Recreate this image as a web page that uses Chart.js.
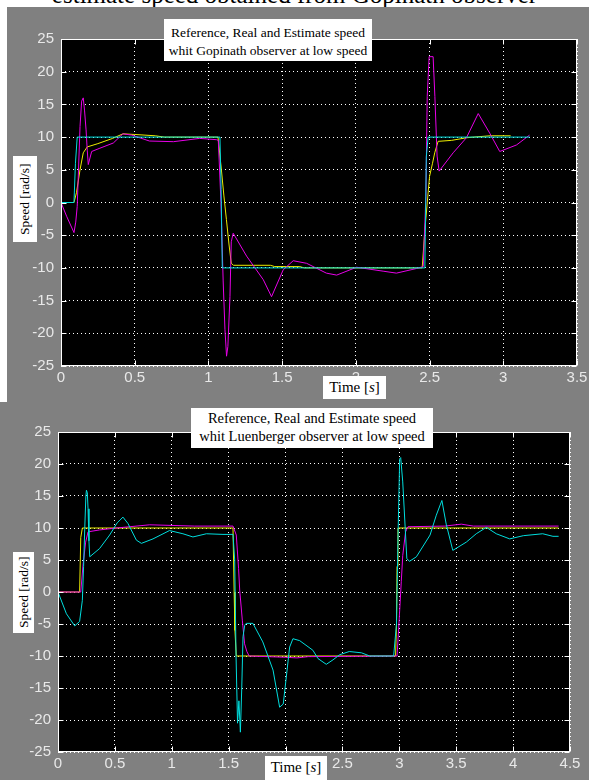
<!DOCTYPE html>
<html>
<head>
<meta charset="utf-8">
<script src="https://cdn.jsdelivr.net/npm/chart.js@4/dist/chart.umd.min.js"></script>
<style>
  html, body { margin: 0; padding: 0; background: #fff; }
  body { position: relative; width: 589px; height: 780px; overflow: hidden;
         font-family: "Liberation Serif", "Times New Roman", serif; }
  .caption { position: absolute; left: 0; top: -18px; width: 589px; text-align: center;
             font-size: 25px; line-height: 25px; color: #000; white-space: nowrap; }
  .fig { position: absolute; background: #808080; }
  canvas { position: absolute; left: 0; }
  .box { position: absolute; background: #fff; color: #000; box-sizing: border-box;
         white-space: nowrap; text-align: center; }
  .ylab { writing-mode: vertical-rl; transform: rotate(180deg); }
</style>
</head>
<body>
<div class="caption">estimate speed obtained from Gopinath observer</div>
<div class="fig" style="left:7px; top:7px; width:582px; height:395px;"></div>
<div class="fig" style="left:0; top:402px; width:589px; height:378px;"></div>

<canvas id="gopinath" width="589" height="402" style="top:0;"></canvas>
<canvas id="luenberger" width="589" height="380" style="top:400px;"></canvas>

<div class="box" style="left:164px; top:19px; width:208px; height:42px; font-size:13.5px; line-height:18px; padding-top:4.5px;">Reference, Real and Estimate speed<br>whit Gopinath observer at low speed</div>
<div class="box ylab" style="left:13px; top:156px; width:24px; height:86px; font-size:13.5px; line-height:24px;">Speed [rad/s]</div>
<div class="box" style="left:323px; top:376px; width:63px; height:23px; font-size:15px; line-height:22px;">Time [<i>s</i>]</div>

<div class="box" style="left:191px; top:408px; width:242px; height:40px; font-size:14.5px; line-height:18px; padding-top:0.5px;">Reference, Real and Estimate speed<br>whit Luenberger observer at low speed</div>
<div class="box ylab" style="left:13px; top:552px; width:21px; height:81px; font-size:13.5px; line-height:21px;">Speed [rad/s]</div>
<div class="box" style="left:265px; top:756px; width:62px; height:24px; font-size:15px; line-height:22px;">Time [<i>s</i>]</div>

<script>
// ---- Gopinath observer run ----
const gopRefT  = [0, 0.088, 0.098, 0.11, 1.078, 1.086, 1.094, 2.468, 2.478, 2.49, 3.18];
const gopRefV  = [0, 0, 6, 10, 10, 2, -10, -10, 7, 10, 10];

const gopRealT = [0, 0.088, 0.105, 0.129, 0.151, 0.178, 0.25, 0.35, 0.42, 0.5,
                  0.64, 0.7, 1.065, 1.088, 1.105, 1.122, 1.14, 1.155, 1.17, 1.42,
                  1.45, 1.62, 1.65, 2.45, 2.468, 2.5, 2.52, 2.535, 2.558, 2.65,
                  2.75, 2.8, 2.91, 3.05];
const gopRealV = [0, 0, 1.5, 5, 7.6, 8.5, 9.0, 9.8, 10.5, 10.4,
                  10.2, 10.0, 10.0, 5, 1, -2.6, -6.5, -9.3, -9.6, -9.6,
                  -9.8, -9.8, -10, -10, -4.2, 4, 6, 7.6, 9.35, 9.5,
                  9.9, 10, 10.2, 10.2];

const gopEstT  = [0, 0.038, 0.088, 0.1, 0.11, 0.129, 0.14, 0.151, 0.16, 0.17,
                  0.178, 0.185, 0.208, 0.264, 0.355, 0.42, 0.48, 0.6, 0.763, 0.94,
                  1.056, 1.067, 1.085, 1.1, 1.112, 1.123, 1.132, 1.146, 1.155, 1.168,
                  1.259, 1.372, 1.428, 1.507, 1.575, 1.666, 1.8, 1.87, 2.005, 2.185,
                  2.275, 2.41, 2.457, 2.475, 2.484, 2.497, 2.524, 2.536, 2.551, 2.565,
                  2.66, 2.75, 2.83, 2.908, 2.976, 3.09, 3.178];
const gopEstV  = [0, -2.1, -4.6, -3, -0.6, 11.6, 15.5, 16, 14, 11.1,
                  8, 5.8, 7.8, 8.3, 9.1, 10.5, 10.3, 9.4, 9.3, 9.8,
                  9.6, 9.5, 0, -12, -19.4, -23.5, -22, -14.4, -6, -4.7,
                  -8.2, -11.8, -14.4, -10.3, -8.9, -9.3, -10.8, -11.1, -9.9, -10.5,
                  -10.8, -10.1, -9.8, 0.9, 16.2, 22.3, 22.3, 16.2, 7.1, 4.8,
                  7.6, 9.9, 13.6, 10.6, 7.8, 8.8, 10.3];

// ---- Luenberger observer run ----
const luenRefT  = [0, 0.19, 0.2, 0.214, 1.538, 1.548, 1.555, 1.567, 2.967, 2.975, 2.98, 2.988, 4.4];
const luenRefV  = [0, 0, 8.5, 10, 10, 0, -6, -10, -10, -5, 4, 10, 10];

const luenRealT = [0, 0.2, 0.22, 0.243, 0.264, 0.366, 0.513, 0.806, 1.2, 1.538,
                   1.567, 1.587, 1.597, 1.62, 1.64, 1.66, 1.68, 2.0, 2.1, 2.2,
                   2.967, 2.98, 2.996, 3.017, 3.03, 3.055, 3.076, 3.4, 3.545, 3.65,
                   4.4];
const luenRealV = [0, 0, 4.2, 7.8, 9.4, 9.7, 10, 10.5, 10.3, 10.3,
                   8.9, 3.7, 0.3, -4.4, -8.1, -9.3, -10, -10.2, -10.3, -10.1,
                   -10, -10, -5.1, 1.6, 5.7, 9.4, 10.2, 10.3, 10.6, 10.3,
                   10.3];

const luenEstT  = [0, 0.074, 0.147, 0.19, 0.214, 0.225, 0.235, 0.245, 0.25, 0.258,
                   0.264, 0.272, 0.279, 0.366, 0.454, 0.52, 0.571, 0.615, 0.689, 0.733,
                   0.835, 0.98, 1.098, 1.186, 1.304, 1.45, 1.538, 1.553, 1.565, 1.578,
                   1.59, 1.603, 1.615, 1.626, 1.641, 1.655, 1.713, 1.8, 1.89, 1.948,
                   1.98, 2.036, 2.065, 2.124, 2.24, 2.285, 2.358, 2.417, 2.476, 2.56,
                   2.667, 2.74, 2.95, 2.975, 2.99, 3.003, 3.012, 3.03, 3.066, 3.09,
                   3.15, 3.27, 3.325, 3.374, 3.412, 3.47, 3.589, 3.676, 3.765, 3.852,
                   3.97, 4.09, 4.26, 4.35, 4.4];
const luenEstV  = [0, -3.4, -5.3, -4.6, -1.3, 4, 9.9, 15, 15.9, 15.5,
                   13, 8, 5.5, 6.8, 8.9, 10.8, 11.7, 10.7, 8.1, 7.6,
                   8.3, 9.6, 9.1, 8.6, 9.1, 9.0, 9.0, 5, -10, -20.5,
                   -17, -21.9, -15, -7, -5.2, -4.9, -4.9, -7.8, -12.2, -18,
                   -17.5, -8.6, -7.3, -7.6, -9.1, -10.4, -11.3, -10.6, -9.8, -9.3,
                   -9.5, -10, -10, -5, 10, 20.8, 21, 17.2, 5.2, 4.8,
                   5.5, 8.9, 12, 14.3, 10.6, 6.5, 7.8, 9.1, 10.1, 9.1,
                   8.3, 8.8, 9.1, 8.7, 8.7];

// ---- axis ticks ----
const gopTimeTicks  = [0, 0.5, 1, 1.5, 2, 2.5, 3, 3.5];
const luenTimeTicks = [0, 0.5, 1, 1.5, 2, 2.5, 3, 3.5, 4, 4.5];
const speedTicks    = [-25, -20, -15, -10, -5, 0, 5, 10, 15, 20, 25];

const YELLOW = 'rgb(236,236,0)';
const MAGENTA = 'rgb(232,0,232)';
const CYAN = 'rgb(0,222,222)';
const TICK_TEXT = '#e8e8e8';
const TICK_FONT = { family: '"Liberation Sans", Arial, sans-serif', size: 15 };

const pts = (ts, vs) => ts.map((t, i) => ({ x: t, y: vs[i] }));
const fixedTicks = arr => scale => { scale.ticks = arr.map(v => ({ value: v })); };

// black plotting area, white box frame and inward tick marks on all four sides
const axesFrame = {
  id: 'axesFrame',
  beforeDraw(chart) {
    const { ctx, chartArea: a } = chart;
    ctx.save();
    ctx.fillStyle = '#000';
    ctx.fillRect(a.left, a.top, a.right - a.left, a.bottom - a.top);
    ctx.restore();
  },
  afterDatasetsDraw(chart) {
    const { ctx, chartArea: a, scales } = chart;
    const L = Math.round(a.left) + 0.5, R = Math.round(a.right) - 0.5;
    const T = Math.round(a.top) + 0.5, B = Math.round(a.bottom) - 0.5;
    const len = 5;
    ctx.save();
    ctx.strokeStyle = '#fff';
    ctx.lineWidth = 1;
    ctx.setLineDash([]);
    ctx.strokeRect(L, T, R - L, B - T);
    ctx.beginPath();
    scales.x.ticks.forEach(t => {
      const px = Math.round(scales.x.getPixelForValue(t.value)) + 0.5;
      ctx.moveTo(px, B); ctx.lineTo(px, B - len);
      ctx.moveTo(px, T); ctx.lineTo(px, T + len);
    });
    scales.y.ticks.forEach(t => {
      const py = Math.round(scales.y.getPixelForValue(t.value)) + 0.5;
      ctx.moveTo(L, py); ctx.lineTo(L + len, py);
      ctx.moveTo(R, py); ctx.lineTo(R - len, py);
    });
    ctx.stroke();
    ctx.restore();
  }
};

function speedPlot(id, o) {
  const line = (t, v, color) => ({
    data: pts(t, v), borderColor: color, borderWidth: 1,
    pointRadius: 0, tension: 0, fill: false
  });
  const axisCommon = {
    type: 'linear',
    grid: { color: '#fff', lineWidth: 1, drawTicks: false },
    border: { display: false, dash: [1, 3] },
    ticks: { color: TICK_TEXT, font: TICK_FONT, autoSkip: false, maxRotation: 0,
             callback: v => String(v) }
  };
  return new Chart(document.getElementById(id), {
    type: 'line',
    data: { datasets: o.series.map(s => line(s[0], s[1], s[2])) },
    options: {
      responsive: false, animation: false, devicePixelRatio: 1,
      layout: { padding: o.padding },
      plugins: { legend: { display: false }, tooltip: { enabled: false } },
      scales: {
        x: Object.assign({}, axisCommon, {
          min: 0, max: o.xMax,
          afterBuildTicks: fixedTicks(o.xTicks),
          afterFit: s => { s.height = o.xAxisH; s.paddingLeft = 0; s.paddingRight = 0; },
          ticks: Object.assign({}, axisCommon.ticks, { padding: 3 })
        }),
        y: Object.assign({}, axisCommon, {
          min: -25, max: 25,
          afterBuildTicks: fixedTicks(speedTicks),
          afterFit: s => { s.width = o.yAxisW; s.paddingTop = 0; s.paddingBottom = 0; },
          ticks: Object.assign({}, axisCommon.ticks, { padding: 7 })
        })
      }
    },
    plugins: [axesFrame]
  });
}

// first dataset is drawn on top
speedPlot('gopinath', {
  xMax: 3.5, xTicks: gopTimeTicks,
  padding: { top: 39, right: 12, left: 0, bottom: 0 }, yAxisW: 61, xAxisH: 36,
  series: [
    [gopRefT, gopRefV, CYAN],
    [gopEstT, gopEstV, MAGENTA],
    [gopRealT, gopRealV, YELLOW]
  ]
});

speedPlot('luenberger', {
  xMax: 4.5, xTicks: luenTimeTicks,
  padding: { top: 32, right: 19, left: 0, bottom: 0 }, yAxisW: 58, xAxisH: 28,
  series: [
    [luenEstT, luenEstV, CYAN],
    [luenRealT, luenRealV, MAGENTA],
    [luenRefT, luenRefV, YELLOW]
  ]
});
</script>
</body>
</html>
